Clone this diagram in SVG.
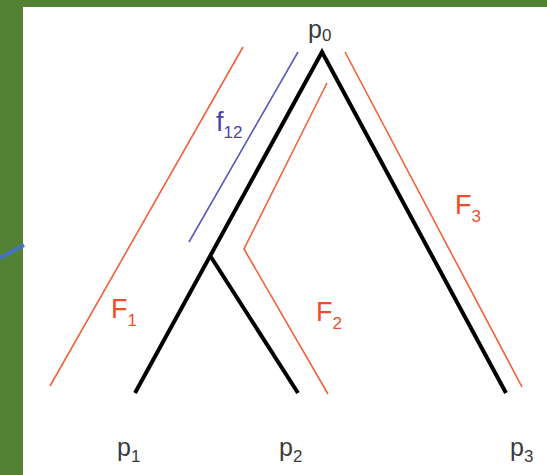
<svg xmlns="http://www.w3.org/2000/svg" width="547" height="475" viewBox="0 0 547 475">
<style>
.tree{stroke:#000;stroke-width:4;fill:none;stroke-linecap:butt;stroke-linejoin:miter}
.flow{stroke:#f2603a;stroke-width:1.6;fill:none}
.flowb{stroke:#5a5ac0;stroke-width:1.6;fill:none}
.lbl{font-family:"Liberation Sans",Arial,sans-serif;font-size:25px}
.big{font-size:27px}
.p{fill:#3a3a3a}
.o{fill:#ee4d2a}
.b{fill:#4a44a8}
.sub{font-size:17px}
</style>
<rect x="0" y="0" width="547" height="475" fill="#ffffff"/>
<rect x="0" y="0" width="547" height="7" fill="#548235"/>
<rect x="0" y="0" width="23" height="475" fill="#548235"/>
<line x1="0" y1="258" x2="24" y2="245" stroke="#4472c4" stroke-width="4"/>
<g id="connectors">
<polyline class="tree" points="135,393 322,52 506,393"/>
<line class="tree" x1="211" y1="257" x2="298" y2="393"/>
<line class="flow" x1="243" y1="47" x2="50" y2="386"/>
<line class="flowb" x1="298" y1="52" x2="189" y2="242"/>
<polyline class="flow" points="327,83 244,249 328,394"/>
<line class="flow" x1="345" y1="52" x2="522" y2="387"/>
</g>
<g id="p0"><text class="lbl p" x="308" y="38">p<tspan class="sub" dy="3">0</tspan></text></g>
<g id="p1"><text class="lbl p" x="117" y="456">p<tspan class="sub" dy="6">1</tspan></text></g>
<g id="p2"><text class="lbl p" x="279" y="456">p<tspan class="sub" dy="6">2</tspan></text></g>
<g id="p3"><text class="lbl p" x="510" y="456">p<tspan class="sub" dy="6">3</tspan></text></g>
<g id="F1"><text class="lbl big o" x="111" y="318">F<tspan class="sub" dy="8">1</tspan></text></g>
<g id="F2"><text class="lbl big o" x="316" y="321">F<tspan class="sub" dy="8">2</tspan></text></g>
<g id="F3"><text class="lbl big o" x="455" y="214">F<tspan class="sub" dy="8">3</tspan></text></g>
<g id="f12"><text class="lbl big b" x="216" y="131">f<tspan class="sub" dy="7">12</tspan></text></g>
</svg>
